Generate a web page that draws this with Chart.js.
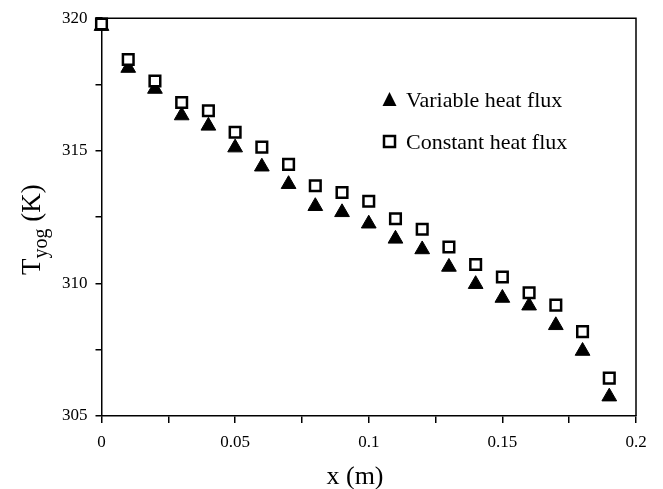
<!DOCTYPE html>
<html>
<head>
<meta charset="utf-8">
<script src="https://cdn.jsdelivr.net/npm/chart.js@4.4.0/dist/chart.umd.min.js"></script>
<style>
  body { margin: 0; background: #fff; }
  #wrap { width: 663px; height: 489px; }
</style>
</head>
<body>
<div id="wrap"><canvas id="tempChart"></canvas></div>
<script>
// x position along the channel (m)
const xValues = [0, 0.01, 0.02, 0.03, 0.04, 0.05, 0.06, 0.07, 0.08, 0.09,
                 0.10, 0.11, 0.12, 0.13, 0.14, 0.15, 0.16, 0.17, 0.18, 0.19];

// T_yog (K)
const variableFlux = [319.7, 318.12, 317.33, 316.33, 315.94, 315.12, 314.4, 313.74, 312.91, 312.68,
                      312.25, 311.68, 311.28, 310.62, 309.97, 309.45, 309.16, 308.42, 307.45, 305.73];
const constantFlux = [319.78, 318.44, 317.63, 316.82, 316.51, 315.7, 315.14, 314.49, 313.68, 313.43,
                      313.1, 312.44, 312.04, 311.37, 310.71, 310.24, 309.65, 309.18, 308.18, 306.43];

const seriesNames = ["Variable heat flux", "Constant heat flux"];
const xTickLabels = ["0", "0.05", "0.1", "0.15", "0.2"];
const yTickLabels = ["305", "310", "315", "320"];

const serif = "'Liberation Serif', 'Times New Roman', serif";

function toPoints(ys) {
  return xValues.map((x, i) => ({ x: x, y: ys[i] }));
}

// box, axis titles and legend
const decorations = {
  id: "decorations",
  afterDraw(chart) {
    const ctx = chart.ctx;
    const a = chart.chartArea;
    ctx.save();
    ctx.strokeStyle = "#000";
    ctx.lineWidth = 1.5;
    ctx.beginPath();
    ctx.moveTo(a.left, a.top);
    ctx.lineTo(a.right, a.top);
    ctx.lineTo(a.right, a.bottom);
    ctx.stroke();

    ctx.fillStyle = "#000";
    ctx.textBaseline = "alphabetic";

    // x title
    ctx.font = "26px " + serif;
    ctx.textAlign = "center";
    ctx.fillText("x (m)", 355, 484);

    // y title with subscript
    ctx.save();
    ctx.translate(39.5, 275);
    ctx.rotate(-Math.PI / 2);
    ctx.textAlign = "left";
    ctx.font = "27px " + serif;
    ctx.fillText("T", 0, 0);
    let w = ctx.measureText("T").width;
    ctx.font = "20px " + serif;
    ctx.fillText("yog", w, 7);
    w += ctx.measureText("yog").width;
    ctx.font = "27px " + serif;
    ctx.fillText(" (K)", w, 0);
    ctx.restore();

    // legend
    ctx.font = "22px " + serif;
    ctx.textAlign = "left";
    ctx.beginPath();
    ctx.moveTo(389.5, 92);
    ctx.lineTo(396.5, 106);
    ctx.lineTo(382.5, 106);
    ctx.closePath();
    ctx.fill();
    ctx.fillText(seriesNames[0], 406, 106.5);

    ctx.lineWidth = 2.5;
    ctx.strokeRect(384, 136, 11, 11);
    ctx.fillText(seriesNames[1], 406, 148.5);
    ctx.restore();
  }
};

const ctx = document.getElementById("tempChart").getContext("2d");
const tempChart = new Chart(ctx, {
  type: "scatter",
  data: {
    datasets: [{
      label: seriesNames[1],
      data: toPoints(constantFlux),
      pointStyle: "rect",
      pointRadius: 7.5,
      pointHoverRadius: 7.5,
      pointBorderWidth: 2.5,
      borderColor: "#000",
      backgroundColor: "#fff",
      clip: false
    }, {
      label: seriesNames[0],
      data: toPoints(variableFlux),
      pointStyle: "triangle",
      pointRadius: 8.5,
      pointHoverRadius: 8.5,
      pointBorderWidth: 1,
      borderColor: "#000",
      backgroundColor: "#000",
      clip: false
    }]
  },
  options: {
    responsive: true,
    maintainAspectRatio: false,
    animation: false,
    layout: { padding: { top: 15, right: 27, left: 0, bottom: 0 } },
    plugins: {
      legend: { display: false },
      tooltip: { enabled: false }
    },
    scales: {
      x: {
        type: "linear",
        min: 0,
        max: 0.2,
        afterFit: s => { s.height = 73; },
        ticks: {
          stepSize: 0.025,
          autoSkip: false,
          maxRotation: 0,
          padding: 9,
          color: "#000",
          font: { family: serif, size: 17 },
          callback: function (v) {
            const k = Math.round(v * 1000);
            return k % 50 === 0 ? xTickLabels[k / 50] : "";
          }
        },
        grid: { drawOnChartArea: false, tickLength: 7, color: "#000", lineWidth: 1.5 },
        border: { display: true, color: "#000", width: 1.5 }
      },
      y: {
        type: "linear",
        min: 305,
        max: 320,
        afterFit: s => { s.width = 101.5; },
        ticks: {
          stepSize: 2.5,
          autoSkip: false,
          padding: 8,
          color: "#000",
          font: { family: serif, size: 17 },
          callback: function (v) {
            const k = Math.round(v * 10) - 3050;
            return k % 50 === 0 ? yTickLabels[k / 50] : "";
          }
        },
        grid: { drawOnChartArea: false, tickLength: 6, color: "#000", lineWidth: 1.5 },
        border: { display: true, color: "#000", width: 1.5 }
      }
    }
  },
  plugins: [decorations]
});
</script>
</body>
</html>
